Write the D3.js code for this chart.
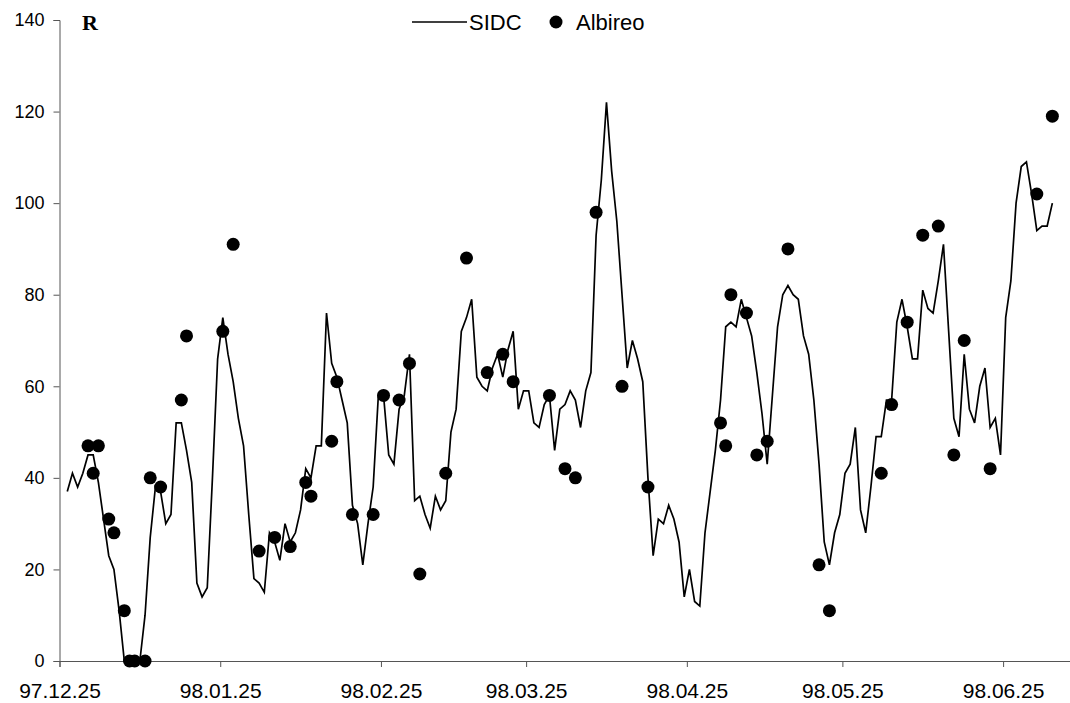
<!DOCTYPE html>
<html>
<head>
<meta charset="utf-8">
<script src="https://cdn.jsdelivr.net/npm/d3@7"></script>
<style>
  body { margin: 0; background: #fff; }
  svg { display: block; font-family: 'Liberation Sans', Arial, sans-serif; }
  .tick text { fill: #000; }
</style>
</head>
<body>
<svg id="chart" width="1070" height="703"></svg>
<script>
// daily SIDC sunspot numbers, first value is 1997-12-26
const sidcStart = '1997-12-26'
const sidcValues = [
  37, 41, 38, 41, 45, 45, 39, 31, 23, 20,
  11, 0, 0, 0, 0, 10, 27, 38, 37, 30,
  32, 52, 52, 46, 39, 17, 14, 16, 40, 66,
  75, 67, 61, 53, 47, 32, 18, 17, 15, 28,
  26, 22, 30, 26, 28, 33, 42, 40, 47, 47,
  76, 65, 62, 57, 52, 34, 30, 21, 30, 38,
  58, 58, 45, 43, 55, 58, 67, 35, 36, 32,
  29, 36, 33, 35, 50, 55, 72, 75, 79, 62,
  60, 59, 64, 67, 62, 68, 72, 55, 59, 59,
  52, 51, 56, 58, 46, 55, 56, 59, 57, 51,
  59, 63, 93, 105, 122, 107, 96, 80, 64, 70,
  66, 61, 40, 23, 31, 30, 34, 31, 26, 14,
  20, 13, 12, 28, 37, 46, 57, 73, 74, 73,
  79, 75, 71, 63, 54, 43, 58, 73, 80, 82,
  80, 79, 71, 67, 57, 43, 26, 21, 28, 32,
  41, 43, 51, 33, 28, 38, 49, 49, 57, 57,
  74, 79, 73, 66, 66, 81, 77, 76, 83, 91,
  72, 53, 49, 67, 55, 52, 60, 64, 51, 53,
  45, 75, 83, 100, 108, 109, 102, 94, 95, 95, 100
]

const albireoDates = [
  '1997-12-30', '1997-12-31', '1998-01-01', '1998-01-03', '1998-01-04', '1998-01-06',
  '1998-01-07', '1998-01-08', '1998-01-10', '1998-01-11', '1998-01-13', '1998-01-17',
  '1998-01-18', '1998-01-25', '1998-01-27', '1998-02-01', '1998-02-04', '1998-02-07',
  '1998-02-10', '1998-02-11', '1998-02-15', '1998-02-16', '1998-02-19', '1998-02-23',
  '1998-02-25', '1998-02-28', '1998-03-02', '1998-03-04', '1998-03-09', '1998-03-13',
  '1998-03-17', '1998-03-20', '1998-03-22', '1998-03-29', '1998-04-01', '1998-04-03',
  '1998-04-07', '1998-04-12', '1998-04-17', '1998-05-01', '1998-05-02', '1998-05-03',
  '1998-05-06', '1998-05-08', '1998-05-10', '1998-05-14', '1998-05-20', '1998-05-22',
  '1998-06-01', '1998-06-03', '1998-06-06', '1998-06-09', '1998-06-12', '1998-06-15',
  '1998-06-17', '1998-06-22', '1998-07-01', '1998-07-04'
]
const albireoValues = [
  47, 41, 47, 31, 28, 11,
  0, 0, 0, 40, 38, 57,
  71, 72, 91, 24, 27, 25,
  39, 36, 48, 61, 32, 32,
  58, 57, 65, 19, 41, 88,
  63, 67, 61, 58, 42, 40,
  98, 60, 38, 52, 47, 80,
  76, 45, 48, 90, 21, 11,
  41, 56, 74, 93, 95, 45,
  70, 42, 102, 119
]

const tickDates = ['1997-12-25', '1998-01-25', '1998-02-25', '1998-03-25', '1998-04-25', '1998-05-25', '1998-06-25']
const tickLabels = ['97.12.25', '98.01.25', '98.02.25', '98.03.25', '98.04.25', '98.05.25', '98.06.25']
const yTicks = [0, 20, 40, 60, 80, 100, 120, 140]

const day = 864e5
const parse = s => new Date(s + 'T00:00:00Z')
// points sit in the middle of their day slot
const mid = d => new Date(+d + day / 2)

const sidc = sidcValues.map((v, i) => ({ date: new Date(+parse(sidcStart) + i * day), value: v }))
const albireo = albireoDates.map((s, i) => ({ date: parse(s), value: albireoValues[i] }))

const svg = d3.select('#chart')

const x = d3.scaleUtc()
  .domain([parse('1997-12-25'), parse('1998-07-08')])
  .range([59.5, 1070.5])
const y = d3.scaleLinear().domain([0, 140]).range([661, 20])

const axisColor = '#555'

svg.append('g')
  .attr('transform', `translate(${x.range()[0]},0)`)
  .call(d3.axisLeft(y).tickValues(yTicks).tickSize(6).tickPadding(9))
  .call(g => g.selectAll('text').style('font-size', '18px'))
  .call(g => g.selectAll('line, path').attr('stroke', axisColor))

svg.append('g')
  .attr('transform', `translate(0,${y(0)})`)
  .call(d3.axisBottom(x)
    .tickValues(tickDates.map(parse))
    .tickFormat((d, i) => tickLabels[i])
    .tickSize(6).tickPadding(16))
  .call(g => g.selectAll('text').style('font-size', '21px'))
  .call(g => g.selectAll('line, path').attr('stroke', axisColor))

const line = d3.line().x(d => x(mid(d.date))).y(d => y(d.value))

svg.append('path')
  .datum(sidc)
  .attr('fill', 'none')
  .attr('stroke', '#000')
  .attr('stroke-width', 1.7)
  .attr('d', line)

svg.append('g')
  .selectAll('circle')
  .data(albireo)
  .join('circle')
    .attr('cx', d => x(mid(d.date)))
    .attr('cy', d => y(d.value))
    .attr('r', 6.5)
    .attr('fill', '#000')

svg.append('text')
  .attr('x', 82).attr('y', 30)
  .style('font-family', "'Liberation Serif', 'Times New Roman', serif")
  .style('font-weight', 'bold')
  .style('font-size', '22px')
  .text('R')

const legend = svg.append('g').style('font-size', '22px')
legend.append('line')
  .attr('x1', 412).attr('x2', 467).attr('y1', 22).attr('y2', 22)
  .attr('stroke', '#000').attr('stroke-width', 1.7)
legend.append('text').attr('x', 469).attr('y', 30).text('SIDC')
legend.append('circle').attr('cx', 556).attr('cy', 22).attr('r', 6.5).attr('fill', '#000')
legend.append('text').attr('x', 576).attr('y', 30).text('Albireo')
</script>
</body>
</html>
